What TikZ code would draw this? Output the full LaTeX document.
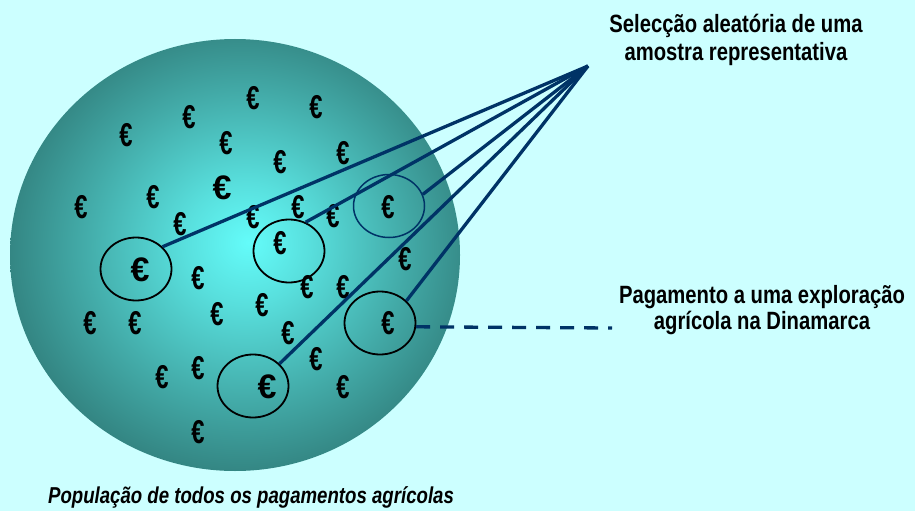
\documentclass[tikz,border=0pt]{standalone}
\usepackage{fontspec}
\setmainfont{Liberation Sans}[FakeStretch=0.81]
\newfontfamily\eurofont{Liberation Sans}[FakeStretch=0.72]
\newfontfamily\eurogrande{Liberation Sans}
\usetikzlibrary{shapes.geometric}
\definecolor{fundo}{HTML}{CCFFFF}
\definecolor{azul}{HTML}{003366}
\definecolor{esferaA}{HTML}{64FCFA}
\definecolor{esferaB}{HTML}{2E7875}
\pgfdeclareradialshading{esfera}{\pgfpoint{1.5bp}{1.5bp}}{color(0bp)=(esferaA); color(7bp)=(esferaA!78!esferaB); color(18bp)=(esferaA!38!esferaB); color(28bp)=(esferaA!3!esferaB); color(31bp)=(esferaB); color(50bp)=(esferaB)}
\begin{document}
\begin{tikzpicture}[x=1pt, y=-1pt,
  eur/.style={inner sep=0pt, font=\eurofont\bfseries\fontsize{33}{33}\selectfont},
  eurg/.style={inner sep=0pt, font=\eurogrande\bfseries\fontsize{34}{34}\selectfont},
  circulo/.style={draw, ellipse, line width=1.8pt, minimum width=71pt, minimum height=63pt, inner sep=0pt},
  fio/.style={draw=azul, line width=3.3pt},
  rotulo/.style={align=center, font=\bfseries\fontsize{25}{28}\selectfont}]
\path[use as bounding box, fill=fundo] (0,0) rectangle (915,511);
% Populacao
\shade[shading=esfera] (235,255) ellipse [x radius=225, y radius=216];
\foreach \x/\y [count=\i] in {253/98, 316/107, 189/117, 126/135, 226/143, 343/153, 280/162,
    153/197, 81/207, 180/224, 253/217, 298/207, 333/216, 388/207, 280/243, 405/259,
    198/278, 307/287, 343/287, 262/305, 217/314, 90/323, 135/323, 288/333, 388/323,
    316/359, 198/368, 162/377, 343/387, 198/432}
  \node[eur] (e\i) at (\x,\y) {€};
\node[eurg] (g1) at (222,188) {€};
\node[eurg] (g2) at (140,270) {€};
\node[eurg] (g3) at (267,387) {€};
% Amostra
\node[circulo] (c1) at (136,269) {};
\node[circulo] (c2) at (289,251) {};
\node[circulo, draw=azul, line width=1.5pt] (c3) at (389,206) {};
\node[circulo] (c4) at (253,386) {};
\node[circulo] (c5) at (380,323) {};
\coordinate (apex) at (588,66);
\draw[fio] (apex) -- (c1.40);
\draw[fio] (apex) -- (c2.60);
\draw[fio] (apex) -- (c3.19);
\draw[fio] (apex) -- (c4.40);
\draw[fio] (apex) -- (c5.40);
\coordinate (fim) at (612,328);
\draw[fio, dash pattern=on 14pt off 10pt] (c5.-6) -- (fim);
% Textos
\node[rotulo] (sel) at (736,40) {Selecção aleatória de uma\\amostra representativa};
\node[rotulo, font=\bfseries\fontsize{25}{26}\selectfont] (pag) at (762,310) {Pagamento a uma exploração\\agrícola na Dinamarca};
\node[anchor=base, font=\bfseries\itshape\fontsize{23}{23}\selectfont] (pop) at (251,503) {População de todos os pagamentos agrícolas};
\end{tikzpicture}
\end{document}
